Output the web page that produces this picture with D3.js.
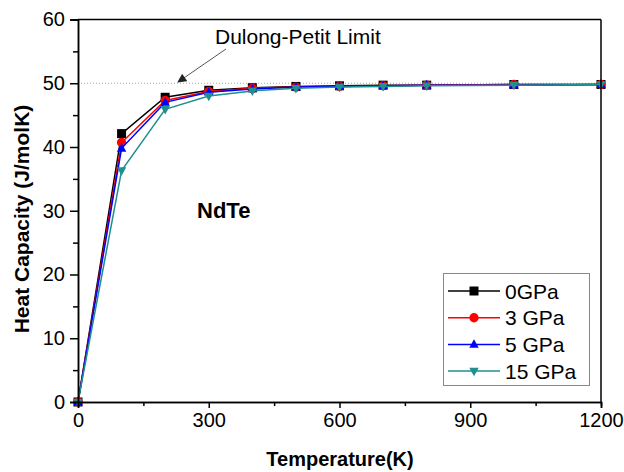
<!DOCTYPE html>
<html>
<head>
<meta charset="utf-8">
<script src="https://cdn.jsdelivr.net/npm/d3@7"></script>
<style>
  body { margin: 0; background: #fff; }
  text { font-family: "Liberation Sans", Arial, sans-serif; }
</style>
</head>
<body>
<svg id="chart" width="624" height="472"></svg>
<script>
const temps = [0, 100, 200, 300, 400, 500, 600, 700, 800, 1000, 1200]
const cp0 = [0, 42.1, 47.8, 48.9, 49.3, 49.5, 49.6, 49.7, 49.7, 49.8, 49.8]
const cp3 = [0, 40.7, 47.3, 48.7, 49.2, 49.4, 49.5, 49.6, 49.7, 49.8, 49.8]
const cp5 = [0, 39.8, 47.0, 48.6, 49.1, 49.4, 49.5, 49.6, 49.7, 49.7, 49.8]
const cp15 = [0, 36.3, 45.9, 48.0, 48.8, 49.2, 49.4, 49.5, 49.6, 49.7, 49.8]
const seriesNames = ["0GPa", "3 GPa", "5 GPa", "15 GPa"]
const xTicks = [0, 300, 600, 900, 1200]
const yTicks = [0, 10, 20, 30, 40, 50, 60]
const dulongPetit = 50

const series = [
  {name: seriesNames[0], values: cp0, color: "#000000", symbol: d3.symbolSquare},
  {name: seriesNames[1], values: cp3, color: "#ff0000", symbol: d3.symbolCircle},
  {name: seriesNames[2], values: cp5, color: "#0000ff", symbol: "up"},
  {name: seriesNames[3], values: cp15, color: "#1f8f8f", symbol: "down"},
]

const MARGIN = {top: 19.5, right: 23, bottom: 70, left: 78}
const WIDTH = 601 - MARGIN.left
const HEIGHT = 402 - MARGIN.top

const svg = d3.select("#chart")
const g = svg.append("g").attr("transform", `translate(${MARGIN.left},${MARGIN.top})`)

const x = d3.scaleLinear().domain([0, 1200]).range([0, WIDTH])
const y = d3.scaleLinear().domain([0, 60]).range([HEIGHT, 0])

function markerPath(sym, size) {
  if (sym === "up") {
    const r = size / 2
    return `M0,${-r * 1.15}L${r * 1.05},${r * 0.75}L${-r * 1.05},${r * 0.75}Z`
  }
  if (sym === "down") {
    const r = size / 2
    return `M0,${r * 1.15}L${r * 1.05},${-r * 0.75}L${-r * 1.05},${-r * 0.75}Z`
  }
  return d3.symbol().type(sym).size(size * size * (sym === d3.symbolCircle ? 0.85 : 1))()
}

// Dulong-Petit dotted line
g.append("line")
  .attr("x1", 0)
  .attr("x2", WIDTH)
  .attr("y1", y(dulongPetit))
  .attr("y2", y(dulongPetit))
  .attr("stroke", "#aaa")
  .attr("stroke-width", 1)
  .attr("stroke-dasharray", "1,2")

// series lines and markers
const line = d3.line().x((d) => x(d[0])).y((d) => y(d[1]))
series.forEach((s) => {
  const pts = temps.map((t, i) => [t, s.values[i]])
  g.append("path")
    .attr("d", line(pts))
    .attr("fill", "none")
    .attr("stroke", s.color)
    .attr("stroke-width", 1.5)
  g.selectAll(null)
    .data(pts)
    .enter()
    .append("path")
    .attr("transform", (d) => `translate(${x(d[0])},${y(d[1])})`)
    .attr("d", markerPath(s.symbol, 9))
    .attr("fill", s.color)
})

// axes
g.append("g")
  .attr("transform", `translate(0,${HEIGHT})`)
  .call(d3.axisBottom(x).tickValues(xTicks).tickFormat(d3.format("d")).tickSize(6).tickPadding(5))
g.append("g")
  .attr("transform", `translate(0,${HEIGHT})`)
  .call(d3.axisBottom(x).tickValues([150, 450, 750, 1050]).tickSize(4).tickFormat(""))
g.append("g")
  .call(d3.axisLeft(y).tickValues(yTicks).tickSize(8).tickPadding(5))
g.append("g")
  .call(d3.axisLeft(y).tickValues([5, 15, 25, 35, 45, 55]).tickSize(5).tickFormat(""))

g.selectAll(".domain").attr("stroke", "#000").attr("stroke-width", 1.5)
g.selectAll(".tick line").attr("stroke", "#000").attr("stroke-width", 1.5)
g.selectAll(".tick text").attr("font-size", 20).attr("fill", "#000")
  .style("font-family", "Liberation Sans, Arial, sans-serif")

// frame top/right
g.append("line").attr("x1", 0).attr("x2", WIDTH).attr("y1", 0).attr("y2", 0)
  .attr("stroke", "#000").attr("stroke-width", 1.5)
g.append("line").attr("x1", WIDTH).attr("x2", WIDTH).attr("y1", 0).attr("y2", HEIGHT)
  .attr("stroke", "#000").attr("stroke-width", 1.5)

// axis titles
svg.append("text")
  .attr("x", 340)
  .attr("y", 466)
  .attr("text-anchor", "middle")
  .attr("font-size", 20)
  .attr("font-weight", "bold")
  .text("Temperature(K)")
svg.append("text")
  .attr("transform", `translate(29,219) rotate(-90)`)
  .attr("text-anchor", "middle")
  .attr("font-size", 21)
  .attr("font-weight", "bold")
  .text("Heat Capacity (J/molK)")

// annotations
svg.append("text")
  .attr("x", 197)
  .attr("y", 218)
  .attr("font-size", 22)
  .attr("font-weight", "bold")
  .text("NdTe")
svg.append("text")
  .attr("x", 215)
  .attr("y", 44)
  .attr("font-size", 21)
  .text("Dulong-Petit Limit")

svg.append("defs").append("marker")
  .attr("id", "arrow")
  .attr("viewBox", "0 0 10 10")
  .attr("refX", 9)
  .attr("refY", 5)
  .attr("markerWidth", 10)
  .attr("markerHeight", 9)
  .attr("markerUnits", "userSpaceOnUse")
  .attr("orient", "auto")
  .append("path")
  .attr("d", "M0,0L10,5L0,10Z")
  .attr("fill", "#222")
svg.append("line")
  .attr("x1", 226)
  .attr("y1", 49)
  .attr("x2", 178)
  .attr("y2", 82)
  .attr("stroke", "#555")
  .attr("stroke-width", 1)
  .attr("marker-end", "url(#arrow)")

// legend
const legend = svg.append("g")
legend.append("rect")
  .attr("x", 443.5)
  .attr("y", 273.5)
  .attr("width", 146)
  .attr("height", 112)
  .attr("fill", "#fff")
  .attr("stroke", "#888")
  .attr("stroke-width", 1)
series.forEach((s, i) => {
  const ly = 291 + i * 26.7
  legend.append("line")
    .attr("x1", 448).attr("x2", 500)
    .attr("y1", ly).attr("y2", ly)
    .attr("stroke", s.color).attr("stroke-width", 1.5)
  legend.append("path")
    .attr("transform", `translate(474,${ly})`)
    .attr("d", markerPath(s.symbol, 9))
    .attr("fill", s.color)
  legend.append("text")
    .attr("x", 505)
    .attr("y", ly + 7.5)
    .attr("font-size", 21)
    .text(s.name)
})
</script>
</body>
</html>
